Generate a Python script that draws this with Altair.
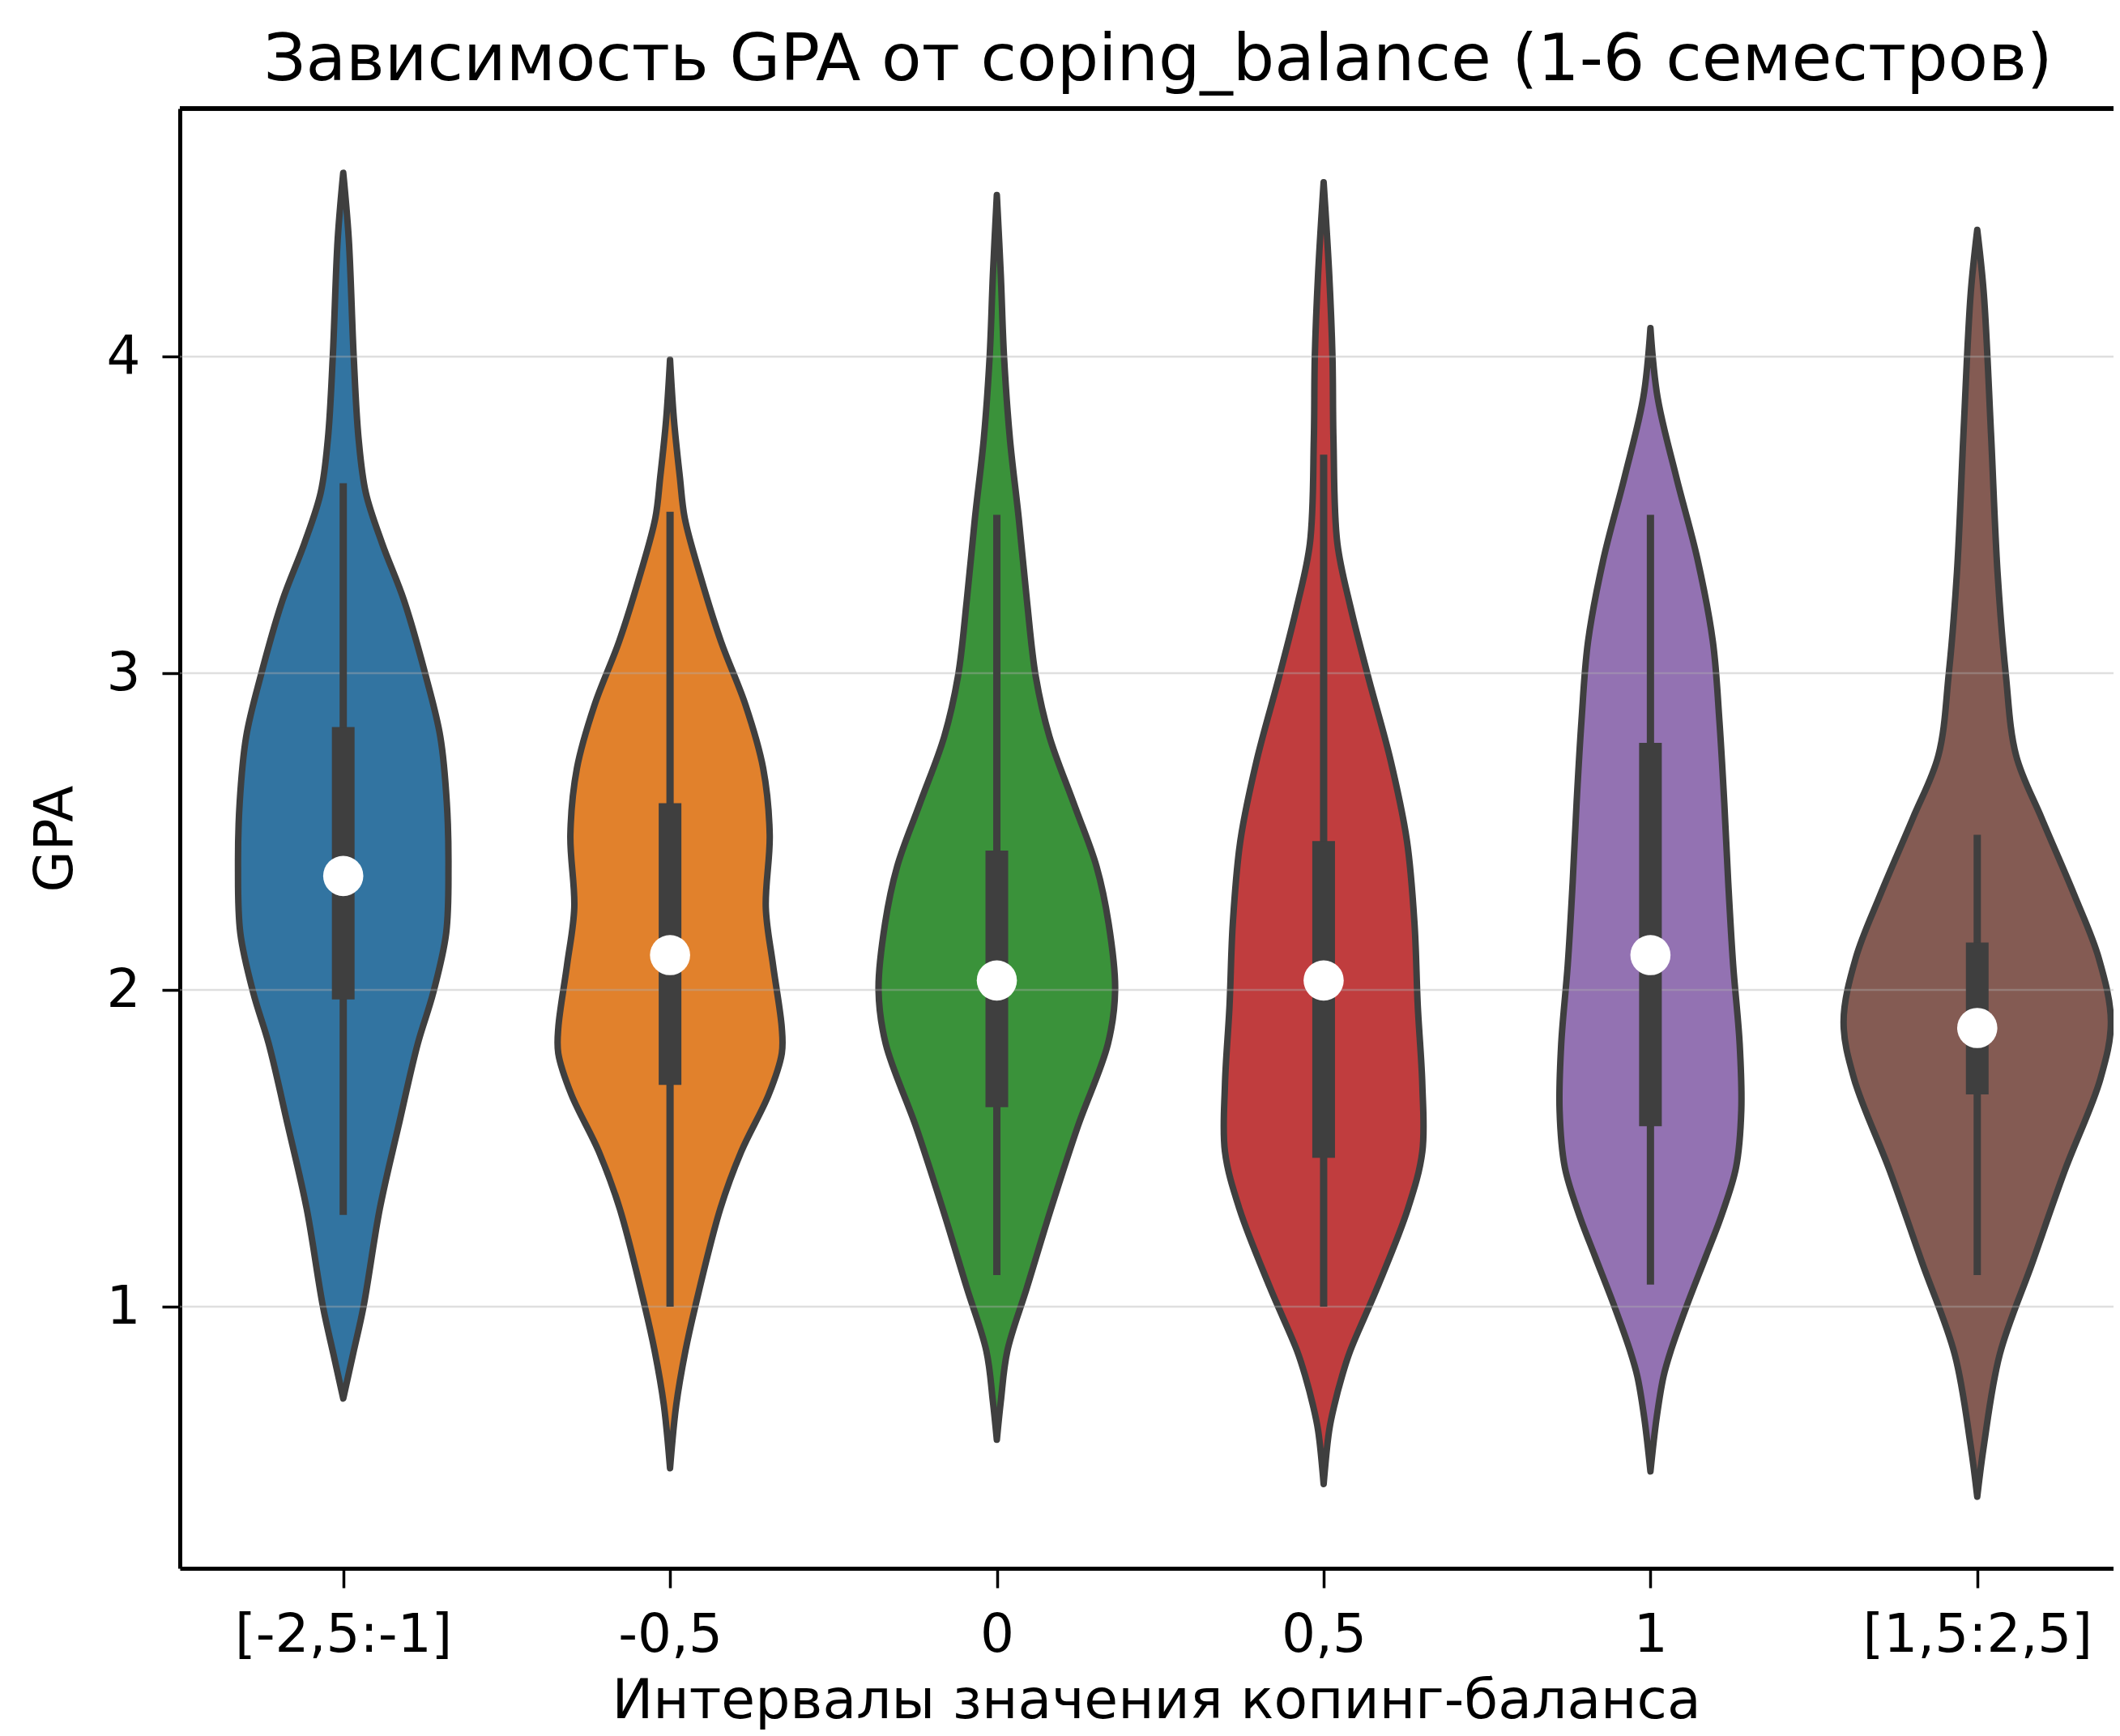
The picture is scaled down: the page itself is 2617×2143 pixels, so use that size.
import json
import altair as alt
import pandas as pd

# ---------------- data ----------------
categories = ["[-2,5:-1]", "-0,5", "0", "0,5", "1", "[1,5:2,5]"]
colors = ["#3274a1", "#e1812c", "#3a923a", "#c03d3e", "#9372b2", "#845b53"]

# violin outlines: GPA level and half-width (in category units)
gpa_0 = [4.58, 4.37, 4.00, 3.74, 3.57, 3.41, 3.23, 2.99, 2.80, 2.59, 2.39, 2.18, 1.99, 1.83, 1.57, 1.31, 1.00, 0.85, 0.71]
half_0 = [0.0, 0.017, 0.032, 0.047, 0.069, 0.119, 0.186, 0.253, 0.297, 0.317, 0.322, 0.315, 0.275, 0.228, 0.169, 0.112, 0.062, 0.030, 0.0]

gpa_1 = [3.99, 3.80, 3.62, 3.49, 3.31, 3.10, 2.90, 2.70, 2.49, 2.26, 2.08, 1.88, 1.80, 1.67, 1.49, 1.31, 1.00, 0.86, 0.69, 0.49]
half_1 = [0.0, 0.012, 0.030, 0.045, 0.092, 0.156, 0.231, 0.285, 0.305, 0.293, 0.315, 0.342, 0.342, 0.302, 0.218, 0.154, 0.077, 0.047, 0.019, 0.0]

gpa_2 = [4.51, 4.26, 4.00, 3.74, 3.49, 3.23, 2.99, 2.80, 2.59, 2.39, 2.21, 2.00, 1.83, 1.57, 1.31, 1.06, 0.86, 0.70, 0.58]
half_2 = [0.0, 0.012, 0.022, 0.040, 0.067, 0.092, 0.119, 0.161, 0.235, 0.305, 0.342, 0.362, 0.340, 0.248, 0.166, 0.092, 0.032, 0.012, 0.0]

gpa_3 = [4.55, 4.26, 4.00, 3.74, 3.41, 3.21, 2.99, 2.72, 2.47, 2.21, 1.95, 1.70, 1.49, 1.31, 1.06, 0.86, 0.78, 0.69, 0.61, 0.44]
half_3 = [0.0, 0.017, 0.027, 0.030, 0.042, 0.082, 0.136, 0.206, 0.255, 0.278, 0.288, 0.302, 0.302, 0.258, 0.164, 0.081, 0.056, 0.033, 0.017, 0.0]

gpa_4 = [4.09, 3.87, 3.62, 3.36, 3.10, 2.85, 2.59, 2.34, 2.08, 1.83, 1.62, 1.44, 1.29, 1.16, 1.00, 0.86, 0.78, 0.65, 0.48]
half_4 = [0.0, 0.022, 0.079, 0.144, 0.191, 0.211, 0.226, 0.238, 0.253, 0.273, 0.278, 0.262, 0.218, 0.170, 0.110, 0.062, 0.040, 0.019, 0.0]

gpa_5 = [4.40, 4.20, 3.76, 3.32, 3.00, 2.74, 2.54, 2.30, 2.10, 1.90, 1.72, 1.43, 1.14, 0.85, 0.56, 0.40]
half_5 = [0.0, 0.020, 0.042, 0.062, 0.087, 0.119, 0.198, 0.297, 0.372, 0.409, 0.377, 0.268, 0.169, 0.069, 0.020, 0.0]

# inner box statistics
whisker_low = [1.29, 1.00, 1.10, 1.00, 1.07, 1.10]
whisker_high = [3.60, 3.51, 3.50, 3.69, 3.50, 2.49]
q1 = [1.97, 1.70, 1.63, 1.47, 1.57, 1.67]
q3 = [2.83, 2.59, 2.44, 2.47, 2.78, 2.15]
median = [2.36, 2.11, 2.03, 2.03, 2.11, 1.88]

y_ticks = [1, 2, 3, 4]

title_text = "Зависимость GPA от coping_balance (1-6 семестров)"
x_title = "Интервалы значения копинг-баланса"
y_title = "GPA"

# ---------------- tables ----------------
gpas = [gpa_0, gpa_1, gpa_2, gpa_3, gpa_4, gpa_5]
halves = [half_0, half_1, half_2, half_3, half_4, half_5]
rows = []
for i, (gs, hs) in enumerate(zip(gpas, halves)):
    for g, h in zip(gs, hs):
        rows.append({"cat": categories[i], "gpa": g, "lo": i - h, "hi": i + h})
df_v = pd.DataFrame(rows).sort_values(["cat", "gpa"]).reset_index(drop=True)

df_box = pd.DataFrame({
    "cat": categories,
    "idx": list(range(len(categories))),
    "wlo": whisker_low, "whi": whisker_high,
    "q1": q1, "q3": q3, "med": median,
})
df_grid = pd.DataFrame({"v": y_ticks})

# ---------------- layout ----------------
W, H = 2387, 1802
FONT = "DejaVu Sans"
DARK = "#3f3f3f"

x_scale = alt.Scale(domain=[-0.5, 5.417], nice=False, zero=False)
y_scale = alt.Scale(domain=[0.174, 4.783], nice=False, zero=False)

label_expr = json.dumps(categories) + "[datum.value]"
x_axis = alt.Axis(
    values=list(range(len(categories))), labelExpr=label_expr, title=x_title,
    grid=False, domainColor="black", domainWidth=5, tickColor="black",
    tickWidth=3.5, tickSize=24, labelFont=FONT, labelFontSize=66,
    labelColor="black", labelPadding=26, labelFlush=False, labelOverlap=False,
    labelBound=False, labelLimit=2000, titleFont=FONT, titleFontSize=68,
    titleFontWeight="normal", titleLimit=3000,
    titleColor="black", titleX=1205, titleY=184, titleBaseline="alphabetic",
    titleAlign="center",
)
y_axis = alt.Axis(
    values=y_ticks, title=y_title, grid=False, domainColor="black",
    domainWidth=5, tickColor="black", tickWidth=3.5, tickSize=22,
    labelFont=FONT, labelFontSize=66, labelColor="black", labelPadding=27,
    labelFlush=False, labelOverlap=False, titleFont=FONT, titleFontSize=66,
    titleFontWeight="normal", titleColor="black", titleAngle=270,
    titleX=-134, titleY=901, titleAlign="center", titleBaseline="alphabetic",
)

color = alt.Color("cat:N", scale=alt.Scale(domain=categories, range=colors), legend=None)

violin = alt.Chart(df_v).mark_area(
    orient="horizontal", interpolate="catmull-rom", stroke=DARK, strokeWidth=8,
    fillOpacity=1, strokeJoin="round",
).encode(
    y=alt.Y("gpa:Q", scale=y_scale, axis=y_axis),
    x=alt.X("lo:Q", scale=x_scale, axis=x_axis),
    x2="hi:Q",
    color=color,
)

grid = alt.Chart(df_grid).mark_rule(color="#b0b0b0", strokeWidth=2.5, opacity=0.4).encode(
    y=alt.Y("v:Q", scale=y_scale, axis=y_axis),
    x=alt.value(0),
    x2=alt.value(W),
)

whisk = alt.Chart(df_box).mark_rule(color=DARK, strokeWidth=9).encode(
    x=alt.X("idx:Q", scale=x_scale, axis=x_axis),
    y=alt.Y("wlo:Q", scale=y_scale, axis=y_axis),
    y2="whi:Q",
)

iqr = alt.Chart(df_box).mark_rule(color=DARK, strokeWidth=28, strokeCap="butt").encode(
    x=alt.X("idx:Q", scale=x_scale, axis=x_axis),
    y=alt.Y("q1:Q", scale=y_scale, axis=y_axis),
    y2="q3:Q",
)

med = alt.Chart(df_box).mark_circle(color="white", size=2460, opacity=1).encode(
    x=alt.X("idx:Q", scale=x_scale, axis=x_axis),
    y=alt.Y("med:Q", scale=y_scale, axis=y_axis),
)

top = alt.Chart(df_grid).mark_rule(color="black", strokeWidth=5).encode(
    x=alt.value(0), x2=alt.value(W), y=alt.value(0),
)

chart = alt.layer(violin, grid, whisk, iqr, med, top).properties(
    width=W, height=H,
    autosize=alt.AutoSizeParams(type="none"),
    padding={"left": 214, "top": 126, "right": 0, "bottom": 199},
    title=alt.TitleParams(
        text=title_text, font=FONT, fontSize=81, fontWeight="normal",
        color="black", anchor="middle", dx=14, dy=72, offset=24, baseline="alphabetic",
    ),
).configure_view(stroke=None).configure(background="white")

chart.save("out.html", embed_options={"renderer": "svg", "actions": False})
